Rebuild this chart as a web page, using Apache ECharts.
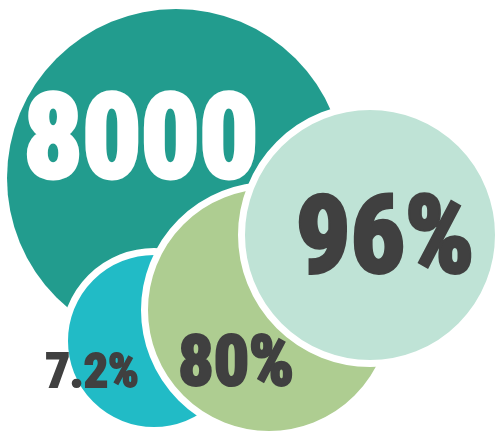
<!DOCTYPE html>
<html>
<head>
<meta charset="utf-8">
<script src="https://cdn.jsdelivr.net/npm/echarts@6/dist/echarts.min.js"></script>
<style>html,body{margin:0;padding:0;background:#fff}#c{width:498px;height:431px}</style>
</head>
<body>
<div id="c"></div>
<script>
// Values shown in each bubble (drawing order: back to front)
const labels = ['8000', '7.2%', '80%', '96%'];
// Bubble centres on a pixel-like value scale
const bubbleX = [176, 154, 269, 370];
const bubbleY = [178, 341, 310, 235];
const bubbleR = [169, 89.5, 124.5, 128.5];

const colors = ['#229C8E', '#21BBC6', '#AECD91', '#BFE3D6'];
const textColors = ['#ffffff', '#404040', '#404040', '#404040'];
const fontSizes = [116, 48, 70, 108];
const labelOffsets = [[-35, -30], [-62, 34], [-33, 57], [15, 10]];

const chart = echarts.init(document.getElementById('c'));
const data = labels.map((l, i) => ({
  value: [bubbleX[i], bubbleY[i], bubbleR[i]],
  name: l,
  itemStyle: { color: colors[i], opacity: 1, borderColor: '#ffffff', borderWidth: i === 0 ? 0 : 7 },
  label: {
    show: true,
    formatter: l,
    position: 'inside',
    offset: labelOffsets[i],
    color: textColors[i],
    opacity: 1,
    fontFamily: 'Roboto Condensed',
    fontWeight: 'bold',
    fontSize: fontSizes[i],
    textBorderColor: textColors[i],
    textBorderWidth: Math.max(2, Math.round(fontSizes[i] / 25))
  }
}));
chart.setOption({
  animation: false,
  grid: { left: 0, right: 0, top: 0, bottom: 0 },
  xAxis: { type: 'value', min: 0, max: 498, show: false },
  yAxis: { type: 'value', min: 0, max: 431, inverse: true, show: false },
  series: [{
    type: 'scatter',
    symbol: 'circle',
    symbolSize: v => v[2] * 2,
    data: data,
    emphasis: { disabled: true }
  }]
});
</script>
</body>
</html>
